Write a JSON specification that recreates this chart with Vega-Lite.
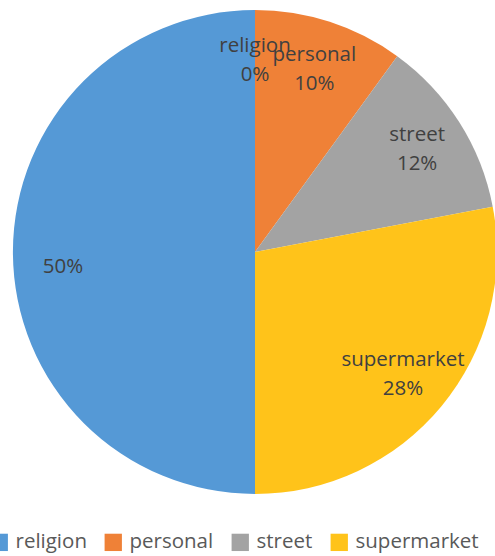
{
  "$schema": "https://vega.github.io/schema/vega-lite/v6.json",
  "width": 510,
  "height": 504,
  "autosize": {"type": "none"},
  "padding": {"left": 0, "top": 0, "right": 0, "bottom": 52},
  "background": "white",
  "config": {"view": {"stroke": null}},
  "data": {
    "values": [
      {"category": "religion", "value": 0, "label": "religion\n0%", "order": 1},
      {"category": "personal", "value": 10, "label": "personal\n10%", "order": 2},
      {"category": "street", "value": 12, "label": "street\n12%", "order": 3},
      {"category": "supermarket", "value": 28, "label": "supermarket\n28%", "order": 4},
      {"category": " ", "value": 50, "label": " \n50%", "order": 5}
    ]
  },
  "encoding": {
    "theta": {"field": "value", "type": "quantitative", "stack": true},
    "order": {"field": "order", "type": "quantitative"}
  },
  "layer": [
    {
      "mark": {"type": "arc", "outerRadius": 242},
      "encoding": {
        "color": {
          "field": "category",
          "type": "nominal",
          "scale": {
            "domain": ["religion", "personal", "street", "supermarket", " "],
            "range": ["#5599D6", "#EF8137", "#A3A3A3", "#FFC31A", "#5599D6"]
          },
          "legend": {
            "values": ["religion", "personal", "street", "supermarket"],
            "orient": "none",
            "legendX": -11,
            "legendY": 532,
            "direction": "horizontal",
            "title": null,
            "symbolType": "square",
            "symbolSize": 300,
            "symbolStrokeWidth": 0,
            "labelFont": "Open Sans",
            "labelFontSize": 20.5,
            "labelColor": "#595959",
            "labelOffset": 6,
            "columnPadding": 16,
            "padding": 0
          }
        }
      }
    },
    {
      "mark": {
        "type": "text",
        "radius": 192,
        "dy": -14.5,
        "font": "Open Sans",
        "fontSize": 20.5,
        "fill": "#404040",
        "lineBreak": "\n",
        "lineHeight": 29
      },
      "encoding": {
        "text": {"field": "label"},
        "detail": {"field": "category"}
      }
    }
  ]
}
